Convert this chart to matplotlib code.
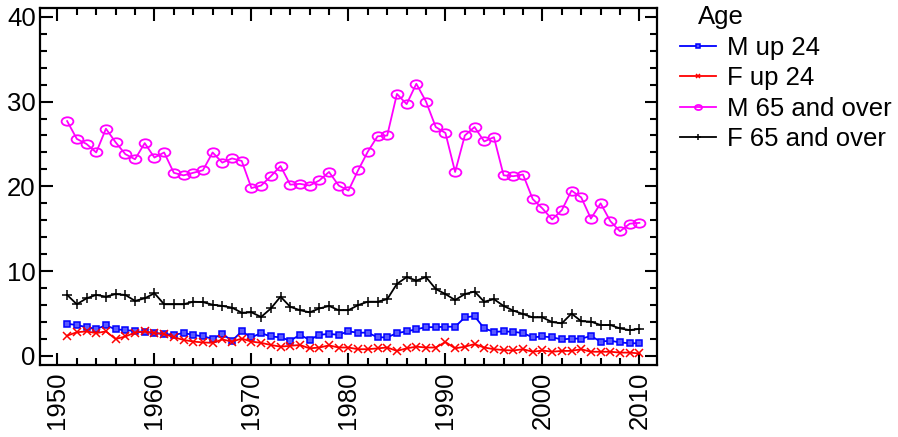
import numpy as np
import matplotlib.pyplot as plt
from matplotlib.path import Path
from matplotlib.transforms import Affine2D
from matplotlib.ticker import MultipleLocator

plt.rcParams['font.family'] = ['Liberation Sans', 'DejaVu Sans']

years = list(range(1951, 2011))

m_up24 = [3.8, 3.65, 3.4, 3.2, 3.6, 3.15, 3.05, 2.95, 2.8, 2.7,
          2.6, 2.5, 2.7, 2.5, 2.3, 2.05, 2.6, 1.8, 2.9, 2.2,
          2.7, 2.3, 2.2, 1.8, 2.5, 1.9, 2.5, 2.6, 2.5, 2.9,
          2.75, 2.75, 2.2, 2.2, 2.7, 2.9, 3.15, 3.4, 3.4, 3.45,
          3.45, 4.55, 4.7, 3.25, 2.85, 2.9, 2.85, 2.7, 2.2, 2.3,
          2.2, 1.95, 2.05, 2.05, 2.35, 1.7, 1.8, 1.6, 1.5, 1.5]

f_up24 = [2.4, 2.8, 2.9, 2.7, 2.9, 2.0, 2.3, 2.75, 2.9, 2.7,
          2.6, 2.2, 1.9, 1.7, 1.6, 1.55, 1.95, 1.7, 2.05, 1.7,
          1.55, 1.3, 1.1, 1.2, 1.3, 0.9, 1.0, 1.25, 1.0, 1.0,
          0.8, 0.8, 0.9, 1.0, 0.6, 0.9, 1.1, 1.0, 1.0, 1.65,
          0.9, 1.1, 1.4, 1.0, 0.8, 0.7, 0.65, 0.8, 0.5, 0.65,
          0.5, 0.6, 0.6, 0.8, 0.5, 0.5, 0.5, 0.4, 0.4, 0.3]

m_65 = [27.7, 25.6, 25.0, 24.0, 26.8, 25.2, 23.8, 23.2, 25.1, 23.4,
        24.0, 21.6, 21.3, 21.6, 21.9, 24.0, 22.8, 23.3, 23.0, 19.8,
        20.1, 21.2, 22.4, 20.2, 20.3, 20.1, 20.7, 21.7, 20.1, 19.5,
        21.9, 24.1, 25.9, 26.0, 30.9, 29.7, 32.1, 30.0, 27.0, 26.3,
        21.7, 26.0, 27.0, 25.3, 25.8, 21.3, 21.2, 21.4, 18.5, 17.4,
        16.1, 17.2, 19.5, 18.7, 16.2, 18.0, 15.9, 14.7, 15.6, 15.7]

f_65 = [7.2, 6.1, 6.8, 7.2, 7.0, 7.3, 7.2, 6.5, 6.8, 7.4,
        6.1, 6.1, 6.1, 6.4, 6.35, 6.05, 5.9, 5.7, 5.1, 5.15,
        4.6, 5.6, 7.0, 5.8, 5.4, 5.15, 5.6, 5.9, 5.4, 5.4,
        6.0, 6.4, 6.4, 6.7, 8.5, 9.3, 8.9, 9.3, 7.9, 7.3,
        6.6, 7.3, 7.6, 6.4, 6.7, 5.9, 5.35, 4.95, 4.55, 4.55,
        4.0, 3.85, 5.0, 4.1, 4.05, 3.65, 3.65, 3.25, 3.05, 3.2]

ellipse = Path.unit_circle().transformed(Affine2D().scale(1.4, 1.0))

fig = plt.figure(figsize=(8.98, 4.37), dpi=100)
ax = fig.add_axes([0.0445, 0.165, 0.687, 0.817])

ax.plot(years, m_up24, color='blue', lw=1.3, marker='s', ms=4,
        mfc='#5a5aff', mec='blue', mew=1.1, label='M up 24')
ax.plot(years, f_up24, color='red', lw=1.3, marker='x', ms=5.5, mew=1.1,
        label='F up 24')
ax.plot(years, m_65, color='magenta', lw=1.3, marker=ellipse, ms=8.5,
        mfc='none', mec='magenta', mew=1.3, label='M 65 and over')
ax.plot(years, f_65, color='black', lw=1.3, marker='+', ms=7, mew=1.1,
        label='F 65 and over')

ax.set_xlim(1948.2, 2011.8)
ax.set_ylim(-1.05, 41.05)
ax.xaxis.set_major_locator(MultipleLocator(10))
ax.xaxis.set_minor_locator(MultipleLocator(2))
ax.yaxis.set_major_locator(MultipleLocator(10))
ax.yaxis.set_minor_locator(MultipleLocator(2))
ax.tick_params(which='both', direction='in', top=True, right=True,
               width=1.5, labelsize=18.5)
ax.tick_params(which='major', length=9)
ax.tick_params(which='minor', length=5)
ax.tick_params(axis='x', labelrotation=90, pad=5)
ax.tick_params(axis='y', pad=3)
for s in ax.spines.values():
    s.set_linewidth(1.6)

leg = fig.legend(*ax.get_legend_handles_labels(), loc='upper left',
                 bbox_to_anchor=(680 / 898, 1 - 36 / 437), frameon=False,
                 fontsize=18.5, markerscale=0.6, handlelength=1.4,
                 handletextpad=0.43, labelspacing=0.25, borderpad=0,
                 borderaxespad=0)
fig.text(698 / 898, 1 - 17 / 437, 'Age', fontsize=18.5, ha='left', va='center')

fig.savefig('out.png', dpi=100)
